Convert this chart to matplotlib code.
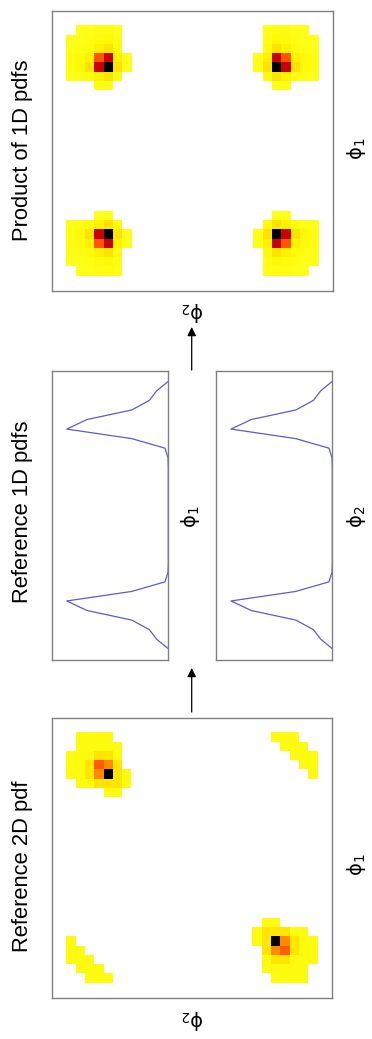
import numpy as np
import matplotlib
matplotlib.use("Agg")
import matplotlib.pyplot as plt
from matplotlib.colors import LinearSegmentedColormap, Normalize

# figure size in pixels (the whole figure is drawn turned 90 degrees)
W, H = 372, 1039

# 1D reference pdfs, one value per phi bin
phi_index = np.arange(29)
pdf_phi1 = [0, .115, .187, .36, .80, 1.0, .36, .033, .003,
            0, 0, 0, 0, 0, 0, 0, 0, 0, 0, 0,
            .003, .033, .36, 1.0, .80, .36, .187, .115, 0]
pdf_phi2 = [0, .115, .187, .36, .80, 1.0, .36, .033, .003,
            0, 0, 0, 0, 0, 0, 0, 0, 0, 0, 0,
            .003, .033, .36, 1.0, .80, .36, .187, .115, 0]

# reference 2D pdf (rows top->bottom as shown)
ref_2d_rows = [
    ".............................",
    "..1111.................111...",
    "..11111.................111..",
    ".111221..................111.",
    ".112ro2...................11.",
    ".112ok21...................1.",
    "..112221.....................",
    ".....11......................",
    ".............................",
    ".............................",
    ".............................",
    ".............................",
    ".............................",
    ".............................",
    ".............................",
    ".............................",
    ".............................",
    ".............................",
    ".............................",
    ".............................",
    ".............................",
    "......................11.....",
    ".....................122211..",
    ".1...................12ko211.",
    ".11...................2or211.",
    ".111..................122111.",
    "..111.................11111..",
    "...111.................1111..",
    ".............................",
]
level_values = {".": 0.0, "1": 0.12, "2": 0.35, "o": 0.55, "r": 0.63, "k": 1.0}

titles = ["Product of 1D pdfs", "Reference 1D pdfs", "Reference 2D pdf"]

plt.rcParams["font.family"] = ["Liberation Sans", "DejaVu Sans"]
plt.rcParams["mathtext.fontset"] = "custom"
plt.rcParams["mathtext.rm"] = "DejaVu Sans"

cmap = LinearSegmentedColormap.from_list("pdf", [
    (0.0, (1, 1, 0.1)), (0.25, (1, 0.97, 0)), (0.4, (1, 0.85, 0)),
    (0.55, (1, 0.52, 0)), (0.65, (1, 0.3, 0)), (0.8, (0.78, 0, 0.03)),
    (0.9, (0.45, 0, 0)), (1.0, (0, 0, 0))])
cmap.set_under("white")
norm = Normalize(vmin=0.017, vmax=1.0)

fig = plt.figure(figsize=(W / 100, H / 100), dpi=100)


def px_axes(x0, y0, x1, y1):
    # axes from pixel box (y measured from top)
    return fig.add_axes([x0 / W, 1 - y1 / H, (x1 - x0) / W, (y1 - y0) / H])


def style(ax):
    ax.set_xticks([])
    ax.set_yticks([])
    for s in ax.spines.values():
        s.set_color("#808080")
        s.set_linewidth(1.0)


def heat(ax, grid):
    ax.imshow(grid, cmap=cmap, norm=norm, interpolation="nearest",
              extent=(-0.5, 28.5, 28.5, -0.5), aspect="auto")
    ax.set_xlim(-1.05, 29.15)
    ax.set_ylim(29.15, -1.05)
    style(ax)


# top: product of the two 1D pdfs
p1 = np.array(pdf_phi1)
p2 = np.array(pdf_phi2)
ax_prod = px_axes(51.7, 11, 333, 291)
heat(ax_prod, np.outer(p1[::-1], p2[::-1]))

# middle: the two 1D pdfs
for (x0, x1), pdf in [((51.7, 168.3), pdf_phi1), ((216, 332.3), pdf_phi2)]:
    ax = px_axes(x0, 371.3, x1, 659.7)
    ax.plot(pdf, phi_index, color="#5c5cd0", lw=0.9)
    ax.set_xlim(1.148, 0)
    ax.set_ylim(-1.15, 29.05)
    style(ax)

# bottom: reference 2D pdf
ref_2d = np.array([[level_values[ch] for ch in row] for row in ref_2d_rows])
ax_ref = px_axes(51.7, 718.3, 332.3, 998.3)
heat(ax_ref, ref_2d)


def ftext(x, y, s, size, rot):
    fig.text(x / W, 1 - y / H, s, fontsize=size, rotation=rot,
             ha="center", va="center")


ftext(23, 150, titles[0], 15.8, 90)
ftext(23, 512, titles[1], 15.8, 90)
ftext(23, 866, titles[2], 15.8, 90)

phi1 = "$\\mathrm{\u03d5}_1$"
phi2 = "$\\mathrm{\u03d5}_2$"
ftext(357, 149, phi1, 14, 90)
ftext(193, 312, phi2, 14, 180)
ftext(191, 517, phi1, 14, 90)
ftext(356, 517, phi2, 14, 90)
ftext(357, 865, phi1, 14, 90)
ftext(193, 1020, phi2, 14, 180)

# arrows between the panels
for y_tail, y_head in [(370, 327), (712, 668)]:
    fig.add_artist(matplotlib.patches.FancyArrowPatch(
        (191.7 / W, 1 - y_tail / H), (191.7 / W, 1 - y_head / H),
        transform=fig.transFigure, arrowstyle="-|>", mutation_scale=13,
        color="black", lw=0.9, shrinkA=0, shrinkB=0))

fig.savefig("out.png", dpi=100)
